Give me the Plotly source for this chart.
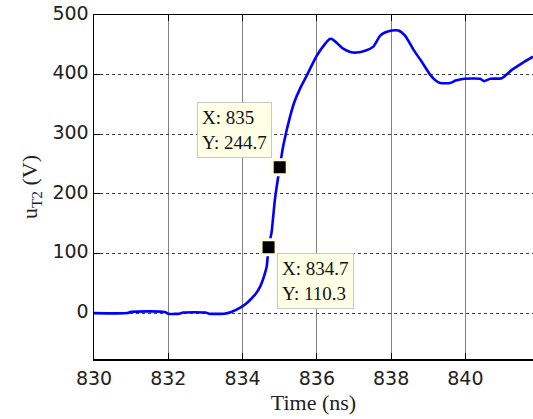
import plotly.graph_objects as go

time_ns = [830.0, 830.9, 831.0, 831.9, 832.0, 832.3, 832.4, 833.0, 833.1, 833.5,
           833.7, 833.94, 834.1, 834.2, 834.35, 834.47, 834.58, 834.65, 834.7, 834.78,
           834.87, 835.0, 835.1, 835.28, 835.4, 835.55, 835.7, 835.82, 836.0, 836.2,
           836.36, 836.45, 836.7, 836.9, 837.07, 837.3, 837.52, 837.7, 837.85, 838.02,
           838.2, 838.38, 838.6, 838.82, 839.05, 839.2, 839.32, 839.59, 839.74, 839.97,
           840.4, 840.5, 840.67, 840.98, 841.25, 841.52, 841.82]
u_t2 = [0, 0, 2, 2, -1, -1, 1, 1, -1, -1,
        2, 9, 16, 22, 32, 44, 62, 78, 110.3, 135,
        190, 244.7, 282, 330, 355, 377, 395, 410, 432, 450,
        460, 458, 444, 438, 437, 440, 447, 465, 471, 474,
        474, 465, 442, 422, 400, 390, 386, 386, 390, 393,
        393, 389, 393, 394, 408, 419, 430]

tip_x = [835, 834.7]
tip_y = [244.7, 110.3]

x_ticks = [830, 832, 834, 836, 838, 840]
y_ticks = [0, 100, 200, 300, 400, 500]

fig = go.Figure()
fig.add_trace(go.Scatter(x=time_ns, y=u_t2, mode="lines",
                         line=dict(color="#0000FF", width=2.6, shape="spline", smoothing=0.6),
                         hoverinfo="skip"))
fig.add_trace(go.Scatter(x=tip_x, y=tip_y, mode="markers",
                         marker=dict(symbol="square", size=15, color="black",
                                     line=dict(color="#FFFFE0", width=3)),
                         hoverinfo="skip"))

serif = "Liberation Serif, Times New Roman, serif"
tip_font = dict(family=serif, size=19, color="#111111")
fig.add_annotation(x=tip_x[0], y=tip_y[0], xref="x", yref="y",
                   text=f"X: {tip_x[0]:g}<br>Y: {tip_y[0]:g}", showarrow=False,
                   xanchor="right", yanchor="bottom", xshift=-8, yshift=9,
                   align="left", bgcolor="#FFFFE6", bordercolor="#C8C8C8",
                   borderwidth=1, borderpad=4, font=tip_font)
fig.add_annotation(x=tip_x[1], y=tip_y[1], xref="x", yref="y",
                   text=f"X: {tip_x[1]:g}<br>Y: {tip_y[1]:g}", showarrow=False,
                   xanchor="left", yanchor="top", xshift=8, yshift=-6,
                   align="left", bgcolor="#FFFFE6", bordercolor="#C8C8C8",
                   borderwidth=1, borderpad=4, font=tip_font)

tick_font = dict(family="DejaVu Sans", size=19, color="#222222")
title_font = dict(family=serif, size=22, color="#222222")

fig.update_layout(
    width=533, height=419,
    margin=dict(l=94, r=0, t=15, b=60, autoexpand=False),
    paper_bgcolor="white", plot_bgcolor="white",
    showlegend=False,
    xaxis=dict(range=[830, 841.82], tickvals=x_ticks, ticks="inside", ticklen=6,
               tickcolor="black", showline=True, linecolor="black", linewidth=1.5,
               mirror="ticks", showgrid=True, gridcolor="#808080", gridwidth=1,
               zeroline=False, tickfont=tick_font, automargin=False,
               ticklabelstandoff=2, ticklabeloverflow="allow",
               title=dict(text="Time (ns)", font=title_font, standoff=6)),
    yaxis=dict(range=[-77, 500], tickvals=y_ticks, ticks="inside", ticklen=6,
               tickcolor="black", showline=True, linecolor="black", linewidth=1.5,
               showgrid=True, gridcolor="#404040", gridwidth=1, griddash="dot",
               zeroline=False, tickfont=tick_font, automargin=False,
               ticklabeloverflow="allow", ticklabelshift=-2,
               title=dict(text="u<sub>T2</sub> (V)", font=title_font, standoff=8)),
)

fig.write_html("out.html", config={"displayModeBar": False, "staticPlot": True},
               post_script="document.body.style.margin='0';document.body.style.overflow='hidden';")
